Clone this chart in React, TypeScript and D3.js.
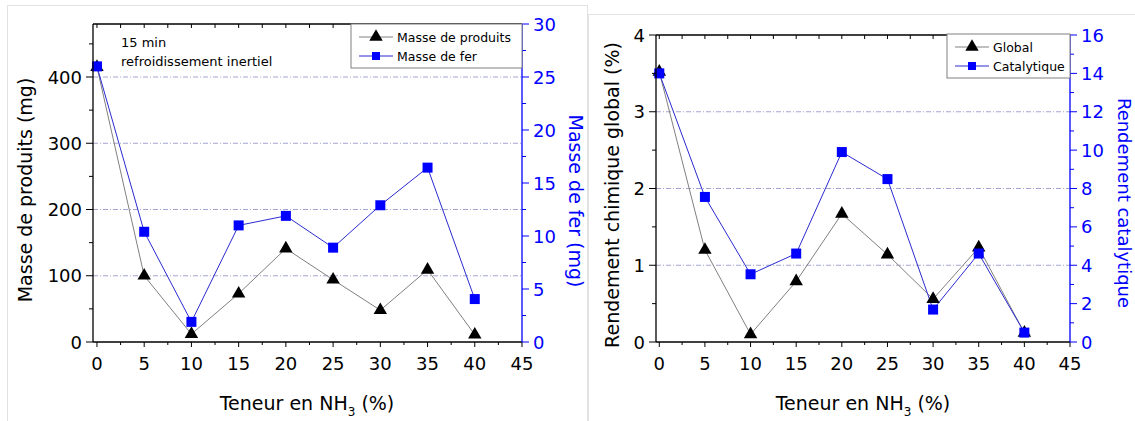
import React from "react";
import * as d3 from "d3";

const xValues = [0, 5, 10, 15, 20, 25, 30, 35, 40];
const xTickValues = [0, 5, 10, 15, 20, 25, 30, 35, 40, 45];

// Left chart
const masseProduits = [415, 100, 12, 73, 141, 94, 48, 109, 11];
const masseFer = [26.0, 10.4, 1.9, 11.0, 11.9, 8.9, 12.9, 16.45, 4.05];
const leftYTicks = [0, 100, 200, 300, 400];
const leftYMinor = [50, 150, 250, 350, 450];
const leftY2Ticks = [0, 5, 10, 15, 20, 25, 30];
const leftY2Minor = [2.5, 7.5, 12.5, 17.5, 22.5, 27.5];

// Right chart
const rendGlobal = [3.52, 1.2, 0.1, 0.79, 1.67, 1.14, 0.56, 1.23, 0.12];
const rendCatal = [14.0, 7.56, 3.53, 4.61, 9.9, 8.49, 1.69, 4.61, 0.49];
const rightYTicks = [0, 1, 2, 3, 4];
const rightYMinor = [0.5, 1.5, 2.5, 3.5];
const rightY2Ticks = [0, 2, 4, 6, 8, 10, 12, 14, 16];
const rightY2Minor = [1, 3, 5, 7, 9, 11, 13, 15];

const FONT = "'DejaVu Sans', Verdana, sans-serif";
const BLUE = "#0000ff";
const LINEBLUE = "#2a2ad0";
const GRAY = "#808080";

type PanelProps = {
  x0: number; x1: number; yTop: number; yBot: number;
  xDomain: [number, number];
  yDomain: [number, number]; y2Domain: [number, number];
  yTicks: number[]; yMinor: number[]; y2Ticks: number[]; y2Minor: number[];
  s1: number[]; s2: number[];
  yLabel: string; y2Label: string; yLabelX: number; yLabelY: number; y2LabelX: number; y2LabelY: number;
  y2LabelSize: number;
  xLabelX: number;
  legend: { x: number; y: number; w: number; h: number; names: [string, string] };
  gridTicks: number[];
};

function Triangle({ cx, cy }: { cx: number; cy: number }) {
  const p = d3.symbol(d3.symbolTriangle, 78)();
  return <path d={p || ""} transform={`translate(${cx},${cy})`} fill="#000" />;
}
function Square({ cx, cy }: { cx: number; cy: number }) {
  return <rect x={cx - 5} y={cy - 5} width={10} height={10} fill={BLUE} />;
}

function Panel(p: PanelProps) {
  const x = d3.scaleLinear().domain(p.xDomain).range([p.x0, p.x1]);
  const y = d3.scaleLinear().domain(p.yDomain).range([p.yBot, p.yTop]);
  const y2 = d3.scaleLinear().domain(p.y2Domain).range([p.yBot, p.yTop]);
  const line1 = d3.line<number>().x((_, i) => x(xValues[i])).y((d) => y(d));
  const line2 = d3.line<number>().x((_, i) => x(xValues[i])).y((d) => y2(d));
  const xMinor = xTickValues.slice(0, -1).map((v) => v + 2.5);
  const lg = p.legend;
  return (
    <g>
      {/* grid */}
      {p.gridTicks.map((t) => (
        <line key={"g" + t} x1={p.x0} x2={p.x1} y1={y(t)} y2={y(t)} stroke="#a4a4d0" strokeWidth={1} strokeDasharray="5,2,1,2" />
      ))}
      {/* series */}
      <path d={line1(p.s1) || ""} fill="none" stroke={GRAY} strokeWidth={1} />
      <path d={line2(p.s2) || ""} fill="none" stroke={LINEBLUE} strokeWidth={1} />
      {p.s1.map((v, i) => <Triangle key={"t" + i} cx={x(xValues[i])} cy={y(v)} />)}
      {p.s2.map((v, i) => <Square key={"s" + i} cx={x(xValues[i])} cy={y2(v)} />)}
      {/* axes */}
      <line x1={p.x0} x2={p.x1} y1={p.yTop} y2={p.yTop} stroke="#000" strokeWidth={1.3} />
      <line x1={p.x0} x2={p.x1} y1={p.yBot} y2={p.yBot} stroke="#000" strokeWidth={1.3} />
      <line x1={p.x0} x2={p.x0} y1={p.yTop} y2={p.yBot} stroke="#000" strokeWidth={1.3} />
      <line x1={p.x1} x2={p.x1} y1={p.yTop} y2={p.yBot} stroke={BLUE} strokeWidth={1.3} />
      {/* x ticks */}
      {xTickValues.map((t) => (
        <g key={"xt" + t}>
          <line x1={x(t)} x2={x(t)} y1={p.yBot} y2={p.yBot + 5} stroke="#000" />
          {t < 45 && <line x1={x(t)} x2={x(t)} y1={p.yTop} y2={p.yTop + 4} stroke="#000" />}
          <text x={x(t)} y={370} textAnchor="middle" fontSize={18} fontFamily={FONT} fill="#000">{t}</text>
        </g>
      ))}
      {xMinor.map((t) => (
        <g key={"xm" + t}>
          <line x1={x(t)} x2={x(t)} y1={p.yBot} y2={p.yBot + 3} stroke="#000" />
          <line x1={x(t)} x2={x(t)} y1={p.yTop} y2={p.yTop + 4} stroke="#000" />
        </g>
      ))}
      {/* left y ticks */}
      {p.yTicks.map((t) => (
        <g key={"yt" + t}>
          <line x1={p.x0 - 7} x2={p.x0} y1={y(t)} y2={y(t)} stroke="#000" />
          <text x={p.x0 - 11} y={y(t) + 6.5} textAnchor="end" fontSize={18} fontFamily={FONT} fill="#000">{t}</text>
        </g>
      ))}
      {p.yMinor.map((t) => (
        <line key={"ym" + t} x1={p.x0 - 4} x2={p.x0} y1={y(t)} y2={y(t)} stroke="#000" />
      ))}
      {/* right y ticks */}
      {p.y2Ticks.map((t) => (
        <g key={"y2t" + t}>
          <line x1={p.x1} x2={p.x1 + 7} y1={y2(t)} y2={y2(t)} stroke={BLUE} />
          <text x={p.x1 + 11} y={y2(t) + 6.5} textAnchor="start" fontSize={18} fontFamily={FONT} fill={BLUE}>{t}</text>
        </g>
      ))}
      {p.y2Minor.map((t) => (
        <line key={"y2m" + t} x1={p.x1} x2={p.x1 + 4} y1={y2(t)} y2={y2(t)} stroke={BLUE} />
      ))}
      {/* axis labels */}
      <text transform={`translate(${p.yLabelX},${p.yLabelY}) rotate(-90)`} textAnchor="middle" fontSize={19} fontFamily={FONT} fill="#000" dominantBaseline="central">{p.yLabel}</text>
      <text transform={`translate(${p.y2LabelX},${p.y2LabelY}) rotate(90)`} textAnchor="middle" fontSize={p.y2LabelSize} fontFamily={FONT} fill={BLUE} dominantBaseline="central">{p.y2Label}</text>
      <text x={p.xLabelX} y={410} textAnchor="middle" fontSize={19} fontFamily={FONT} fill="#000">
        Teneur en NH<tspan fontSize={12} dy={6}>3</tspan><tspan dy={-6}> (%)</tspan>
      </text>
      {/* legend */}
      <rect x={lg.x} y={lg.y} width={lg.w} height={lg.h} fill="#fff" stroke="#808080" strokeWidth={1} />
      <line x1={lg.x + 8} x2={lg.x + 42} y1={lg.y + 13} y2={lg.y + 13} stroke={GRAY} />
      <Triangle cx={lg.x + 25} cy={lg.y + 13} />
      <text x={lg.x + 46} y={lg.y + 18} fontSize={12.5} fontFamily={FONT} fill="#000">{lg.names[0]}</text>
      <line x1={lg.x + 8} x2={lg.x + 42} y1={lg.y + 32} y2={lg.y + 32} stroke={LINEBLUE} />
      <rect x={lg.x + 21} y={lg.y + 28} width={8} height={8} fill={BLUE} />
      <text x={lg.x + 46} y={lg.y + 37} fontSize={12.5} fontFamily={FONT} fill="#000">{lg.names[1]}</text>
    </g>
  );
}

export default function App() {
  return (
    <svg width={1135} height={421} style={{ position: "absolute", left: 0, top: 0, background: "#fff" }}>
      <rect x={0} y={0} width={1135} height={421} fill="#fff" />
      {/* panel frames */}
      <rect x={7.5} y={5.5} width={580} height={430} fill="none" stroke="#e2e2e2" />
      <rect x={588.5} y={14.5} width={560} height={430} fill="none" stroke="#e2e2e2" />
      <Panel
        x0={93} x1={522} yTop={24} yBot={342}
        xDomain={[-0.42, 45]} yDomain={[0, 480]} y2Domain={[0, 30]}
        yTicks={leftYTicks} yMinor={leftYMinor} y2Ticks={leftY2Ticks} y2Minor={leftY2Minor}
        s1={masseProduits} s2={masseFer}
        yLabel="Masse de produits (mg)" y2Label="Masse de fer (mg)"
        yLabelX={25} yLabelY={190} y2LabelX={576} y2LabelY={201} y2LabelSize={19}
        xLabelX={307}
        legend={{ x: 351, y: 24, w: 171, h: 44, names: ["Masse de produits", "Masse de fer"] }}
        gridTicks={[100, 200, 300, 400]}
      />
      <text x={121} y={47} fontSize={13} fontFamily={FONT} fill="#000">15 min</text>
      <text x={121} y={66} fontSize={13} fontFamily={FONT} fill="#000">refroidissement inertiel</text>
      <Panel
        x0={656} x1={1070} yTop={35} yBot={342}
        xDomain={[-0.36, 45]} yDomain={[0, 4]} y2Domain={[0, 16]}
        yTicks={rightYTicks} yMinor={rightYMinor} y2Ticks={rightY2Ticks} y2Minor={rightY2Minor}
        s1={rendGlobal} s2={rendCatal}
        yLabel="Rendement chimique global (%)" y2Label="Rendement catalytique"
        yLabelX={612} yLabelY={195} y2LabelX={1124} y2LabelY={203} y2LabelSize={18}
        xLabelX={863}
        legend={{ x: 947, y: 34, w: 123, h: 44, names: ["Global", "Catalytique"] }}
        gridTicks={[1, 2, 3]}
      />
    </svg>
  );
}
